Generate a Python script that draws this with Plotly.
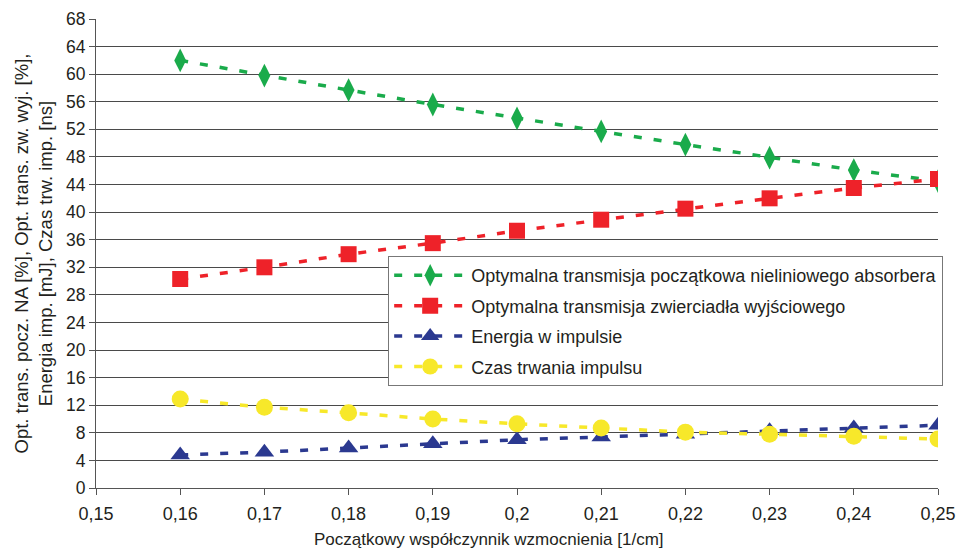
import plotly.graph_objects as go

x = [0.16, 0.17, 0.18, 0.19, 0.20, 0.21, 0.22, 0.23, 0.24, 0.25]
green = [62.0, 59.8, 57.7, 55.6, 53.6, 51.7, 49.8, 47.9, 46.1, 44.5]
red = [30.3, 32.0, 33.9, 35.5, 37.3, 38.9, 40.5, 42.0, 43.5, 44.8]
blue = [4.8, 5.2, 5.8, 6.4, 7.0, 7.4, 7.8, 8.3, 8.7, 9.1]
yellow = [12.9, 11.7, 10.9, 10.0, 9.3, 8.7, 8.1, 7.8, 7.5, 7.1]

names = [
    "Optymalna transmisja początkowa nieliniowego absorbera",
    "Optymalna transmisja zwierciadła wyjściowego",
    "Energia w impulsie",
    "Czas trwania impulsu",
]
xticks = [0.15, 0.16, 0.17, 0.18, 0.19, 0.20, 0.21, 0.22, 0.23, 0.24, 0.25]
xticklabels = ["0,15", "0,16", "0,17", "0,18", "0,19", "0,2", "0,21", "0,22", "0,23", "0,24", "0,25"]
yticks = list(range(0, 69, 4))
x_title = "Początkowy współczynnik wzmocnienia [1/cm]"
y_title = "Opt. trans. pocz. NA [%], Opt. trans. zw. wyj. [%],<br>Energia imp. [mJ], Czas trw. imp. [ns]"

series = [
    (green, "#1AAB4B", "diamond-tall", 17),
    (red, "#EE2229", "square", 16),
    (blue, "#2B3990", "triangle-up", 17),
    (yellow, "#F7E82A", "circle", 17),
]

fig = go.Figure()
for i, ((vals, col, sym, sz), nm) in enumerate(zip(series, names)):
    fig.add_trace(go.Scatter(
        x=x, y=vals, name=nm, mode="lines+markers", legendgroup=f"g{i}",
        line=dict(color=col, width=3.5, dash="8px,12px"),
        marker=dict(color=col, symbol=sym, size=sz),
    ))

font = "Liberation Sans, Arial, sans-serif"
fig.update_layout(
    width=958, height=552,
    margin=dict(l=96, r=20, t=19, b=64, autoexpand=False),
    paper_bgcolor="white", plot_bgcolor="white",
    font=dict(family=font, size=18, color="#231F20"),
    showlegend=True,
    legend=dict(
        x=0.347, y=0.4945, xanchor="left", yanchor="top",
        bgcolor="white", bordercolor="#777777", borderwidth=1,
        font=dict(size=18, color="#231F20"),
        tracegroupgap=4, itemwidth=72,
    ),
    xaxis=dict(
        range=[0.15, 0.25], tickvals=xticks, ticktext=xticklabels,
        showgrid=False, zeroline=False, automargin=False,
        showline=True, linecolor="#555555", linewidth=1,
        ticks="outside", ticklen=6, tickcolor="#555555",
        ticklabelstandoff=3,
        tickfont=dict(size=18),
    ),
    yaxis=dict(
        range=[0, 68], tickvals=yticks, automargin=False,
        showgrid=True, gridcolor="#4a4a4a", gridwidth=1,
        zeroline=False,
        showline=True, linecolor="#555555", linewidth=1,
        ticks="outside", ticklen=6, tickcolor="#555555",
        tickfont=dict(size=17.5),
    ),
    annotations=[
        dict(text=x_title, xref="paper", yref="paper",
             x=(489 - 96) / 842, y=(488 - 539) / 469,
             xanchor="center", yanchor="middle", showarrow=False,
             font=dict(size=17)),
        dict(text=y_title, xref="paper", yref="paper",
             x=(33 - 96) / 842, y=0.5, textangle=-90,
             xanchor="center", yanchor="middle", showarrow=False,
             font=dict(size=18.5)),
    ],
)

fig.write_html("out.html")
